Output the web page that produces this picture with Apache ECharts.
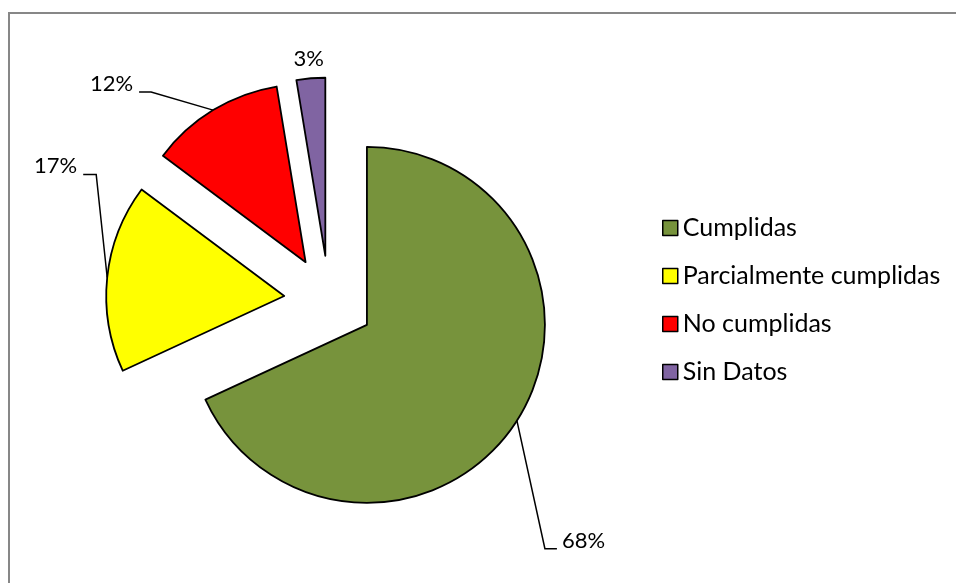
<!DOCTYPE html>
<html>
<head>
<meta charset="utf-8">
<script src="https://cdn.jsdelivr.net/npm/echarts@6/dist/echarts.min.js"></script>
<style>
  html, body { margin: 0; padding: 0; background: #fff; }
  #frame { position: absolute; left: 8px; top: 12px; width: 2000px; height: 2000px;
           border-left: 2px solid #878787; border-top: 2px solid #878787; }
  #chart { position: absolute; left: 0; top: 0; width: 956px; height: 583px; }
</style>
</head>
<body>
<div id="frame"></div>
<div id="chart"></div>
<script>
// ---- data ----
const categories = ['Cumplidas', 'Parcialmente cumplidas', 'No cumplidas', 'Sin Datos'];
const values = [68.1, 17.1, 12.2, 2.6];
const colors = ['#77933C', '#FFFF00', '#FF0000', '#8064A2'];

// ---- layout config ----
const baseCenter = [329, 300.6];
const radius = 178;
const explode = 45;
const FONT = 'Lato';
const FS = 25;
const LABEL_FS = 22;
// label placement relative to each slice's outer mid-point
const labelGuides = [
  { bend: [28, 128], end: 12, text: [5, -8], align: 'left' },
  { bend: [-11, -103], end: -13, text: [-6, -9], align: 'right' },
  { bend: [-62, -18], end: -12, text: [-6, -8], align: 'right' },
  { bend: null, end: 0, text: [-2, -19], align: 'center' }
];

const total = values.reduce((a, b) => a + b, 0);
const chart = echarts.init(document.getElementById('chart'), null, { renderer: 'canvas' });

const series = [];
let cum = 0;
values.forEach((v, i) => {
  const startDeg = 90 - cum / total * 360;
  const mid = (cum + v / 2) / total * 2 * Math.PI;
  const cx = baseCenter[0] + explode * Math.sin(mid);
  const cy = baseCenter[1] - explode * Math.cos(mid);
  const ax = cx + radius * Math.sin(mid);
  const ay = cy - radius * Math.cos(mid);
  const g = labelGuides[i];
  cum += v;
  series.push({
    type: 'pie',
    center: [cx, cy],
    radius: [0, radius],
    startAngle: startDeg,
    clockwise: true,
    avoidLabelOverlap: false,
    animation: false,
    emphasis: { disabled: true },
    itemStyle: { borderColor: '#000', borderWidth: 1.8 },
    label: {
      show: true,
      position: 'outside',
      fontFamily: FONT,
      fontSize: LABEL_FS,
      color: '#000',
      formatter: p => Math.round(p.value * 100 / total) + '%'
    },
    labelLine: {
      show: g.bend !== null,
      lineStyle: { color: '#000', width: 1.5 }
    },
    labelLayout: function (params) {
      if (params.dataIndex !== 0) return {};
      if (g.bend) {
        const bx = ax + g.bend[0], by = ay + g.bend[1];
        const ex = bx + g.end, ey = by;
        return {
          x: ex + g.text[0], y: ey + g.text[1],
          align: g.align, verticalAlign: 'middle',
          labelLinePoints: [[ax, ay], [bx, by], [ex, ey]]
        };
      }
      return { x: ax + g.text[0], y: ay + g.text[1], align: g.align, verticalAlign: 'middle' };
    },
    data: [
      { name: categories[i], value: v, itemStyle: { color: colors[i] } },
      { name: '__rest' + i, value: total - v,
        itemStyle: { color: 'rgba(0,0,0,0)', borderWidth: 0 },
        label: { show: false }, labelLine: { show: false }, silent: true }
    ]
  });
});

chart.setOption({
  backgroundColor: 'transparent',
  animation: false,
  legend: {
    orient: 'vertical',
    left: 662,
    top: 215,
    padding: 0,
    itemWidth: 15,
    itemHeight: 15,
    itemGap: 22,
    itemTextGap: 7,
    icon: 'rect',
    itemStyle: { borderColor: '#000', borderWidth: 1.5 },
    textStyle: { fontFamily: FONT, fontSize: FS, color: '#000', lineHeight: 26 },
    data: categories
  },
  series: series
});
</script>
</body>
</html>
